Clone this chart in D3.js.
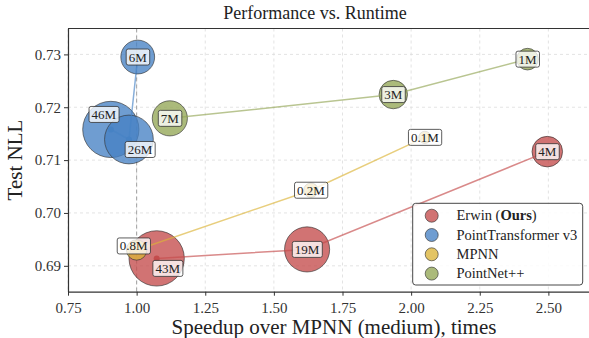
<!DOCTYPE html>
<html>
<head>
<meta charset="utf-8">
<script src="https://d3js.org/d3.v7.min.js"></script>
<style>
	body { margin: 0; background: #fff; }
	svg { display: block; font-family: "Liberation Serif", "DejaVu Serif", serif; }
	.grid line { stroke: #dcdcdc; stroke-width: 0.8; stroke-dasharray: 3,3; }
	.axis path, .axis line { stroke: #333; }
	.axis text { font-size: 15px; fill: #333; font-family: "Liberation Serif", serif; }
</style>
</head>
<body>
<div id="chart"></div>
<script>
	// --- data ---
	var models = ["Erwin", "PointTransformer v3", "MPNN", "PointNet++"];
	var colors = ["#c44c4c", "#4682c4", "#dbb438", "#94a656"];

	var erwinSpeed  = [1.073, 1.621, 2.496];
	var erwinNLL    = [0.6914, 0.6931, 0.7116];
	var erwinParams = [43, 19, 4];

	var ptv3Speed  = [0.906, 0.972, 1.004];
	var ptv3NLL    = [0.7158, 0.7139, 0.7295];
	var ptv3Params = [46, 26, 6];

	var mpnnSpeed  = [1.000, 1.635, 2.050];
	var mpnnNLL    = [0.6930, 0.7043, 0.7143];
	var mpnnParams = [0.8, 0.2, 0.1];

	var pnSpeed  = [1.121, 1.935, 2.424];
	var pnNLL    = [0.7179, 0.7224, 0.7291];
	var pnParams = [7, 3, 1];

	var xTicks = [0.75, 1.00, 1.25, 1.50, 1.75, 2.00, 2.25, 2.50];
	var yTicks = [0.69, 0.70, 0.71, 0.72, 0.73];

	var series = [
		{speed: erwinSpeed, nll: erwinNLL, params: erwinParams},
		{speed: ptv3Speed, nll: ptv3NLL, params: ptv3Params},
		{speed: mpnnSpeed, nll: mpnnNLL, params: mpnnParams},
		{speed: pnSpeed, nll: pnNLL, params: pnParams}
	];

	// label nudges so boxes do not pile up (px)
	var nudge = {"43": [11, 10], "26": [11, 10], "46": [-7, -15], "0.8": [-3, -4]};

	var W = 589, H = 338;
	var pLeft = 68, pTop = 28.5, pBottom = 291.7;

	var x = d3.scaleLinear().domain([0.75, 2.66]).range([pLeft, pLeft + 1.91 * 274.5]);
	var y = d3.scaleLinear().domain([0.6851, 0.7349]).range([pBottom, pTop]);
	var r = d3.scalePow().exponent(0.25).domain([0, 1]).range([0, 10.8]);

	var svg = d3.select("#chart").append("svg")
		.attr("width", W)
		.attr("height", H);

	svg.append("clipPath").attr("id", "clip")
		.append("rect").attr("x", pLeft).attr("y", pTop)
		.attr("width", W - pLeft).attr("height", pBottom - pTop);

	// grid
	svg.append("g").attr("class", "grid")
		.selectAll("line").data(xTicks).enter().append("line")
		.attr("x1", d => x(d)).attr("x2", d => x(d))
		.attr("y1", pTop).attr("y2", pBottom);
	svg.append("g").attr("class", "grid")
		.selectAll("line").data(yTicks).enter().append("line")
		.attr("x1", pLeft).attr("x2", W)
		.attr("y1", d => y(d)).attr("y2", d => y(d));

	// reference at speedup = 1
	svg.append("line")
		.attr("x1", x(1)).attr("x2", x(1))
		.attr("y1", pTop).attr("y2", pBottom)
		.attr("stroke", "#9a9a9a").attr("stroke-width", 0.9)
		.attr("stroke-dasharray", "4,3");

	var plot = svg.append("g").attr("clip-path", "url(#clip)");

	series.forEach(function(s, i) {
		var pts = s.speed.map(function(v, j) {
			return {x: v, y: s.nll[j], p: s.params[j]};
		});
		var g = plot.append("g");

		g.selectAll("circle.bubble").data(pts).enter().append("circle")
			.attr("class", "bubble")
			.attr("cx", d => x(d.x)).attr("cy", d => y(d.y))
			.attr("r", d => r(d.p))
			.attr("fill", colors[i]).attr("fill-opacity", 0.78)
			.attr("stroke", "#333").attr("stroke-opacity", 0.8)
			.attr("stroke-width", 0.8);

		var sorted = pts.slice().sort((a, b) => a.x - b.x);
		g.append("path")
			.datum(sorted)
			.attr("d", d3.line().x(d => x(d.x)).y(d => y(d.y)))
			.attr("fill", "none")
			.attr("stroke", colors[i]).attr("stroke-opacity", 0.65)
			.attr("stroke-width", 1.5);

		g.selectAll("circle.dot").data(pts).enter().append("circle")
			.attr("class", "dot")
			.attr("cx", d => x(d.x)).attr("cy", d => y(d.y))
			.attr("r", 3)
			.attr("fill", colors[i]);
	});

	// labels on top
	var labels = svg.append("g");
	series.forEach(function(s, i) {
		s.speed.forEach(function(v, j) {
			var key = String(s.params[j]);
			var off = nudge[key] || [0, 0];
			var cx = x(v) + off[0], cy = y(s.nll[j]) + off[1];
			var g = labels.append("g");
			var t = g.append("text")
				.attr("x", cx).attr("y", cy + 4.5)
				.attr("text-anchor", "middle")
				.attr("font-size", 13)
				.attr("fill", "#222")
				.text(key + "M");
			var bb = t.node().getBBox();
			g.insert("rect", "text")
				.attr("x", bb.x - 2.5).attr("y", cy - 8)
				.attr("width", bb.width + 5).attr("height", 16)
				.attr("rx", 2)
				.attr("fill", "#fff").attr("fill-opacity", 0.78)
				.attr("stroke", "#333").attr("stroke-width", 0.8);
		});
	});

	// axes
	svg.append("g").attr("class", "axis")
		.attr("transform", "translate(0," + pBottom + ")")
		.call(d3.axisBottom(x).tickValues(xTicks).tickFormat(d3.format(".2f")).tickSize(4).tickSizeOuter(0))
		.call(g => g.select(".domain").attr("stroke-width", 1.2))
		.selectAll("text").attr("dy", "0.95em");

	svg.append("g").attr("class", "axis")
		.attr("transform", "translate(" + pLeft + ",0)")
		.call(d3.axisLeft(y).tickValues(yTicks).tickFormat(d3.format(".2f")).tickSize(4).tickSizeOuter(0))
		.call(g => g.select(".domain").attr("stroke-width", 1.2));

	svg.append("line")
		.attr("x1", pLeft).attr("x2", W).attr("y1", pTop).attr("y2", pTop)
		.attr("stroke", "#333").attr("stroke-width", 1.2);

	// titles
	svg.append("text")
		.attr("x", 315).attr("y", 19)
		.attr("text-anchor", "middle")
		.attr("font-size", 18).attr("fill", "#222")
		.text("Performance vs. Runtime");

	svg.append("text")
		.attr("x", 334).attr("y", 334)
		.attr("text-anchor", "middle")
		.attr("font-size", 21).attr("fill", "#222")
		.text("Speedup over MPNN (medium), times");

	svg.append("text")
		.attr("transform", "translate(22,160) rotate(-90)")
		.attr("text-anchor", "middle")
		.attr("font-size", 21).attr("fill", "#222")
		.text("Test NLL");

	// legend
	var lg = svg.append("g");
	lg.append("rect")
		.attr("x", 412.7).attr("y", 203.3)
		.attr("width", 170).attr("height", 81.7)
		.attr("rx", 3)
		.attr("fill", "#fff").attr("fill-opacity", 0.85)
		.attr("stroke", "#333").attr("stroke-width", 0.9);

	models.forEach(function(m, i) {
		var yy = 215.7 + i * 19.3;
		lg.append("circle")
			.attr("cx", 431.7).attr("cy", yy).attr("r", 6.5)
			.attr("fill", colors[i]).attr("fill-opacity", 0.78)
			.attr("stroke", "#333").attr("stroke-opacity", 0.8).attr("stroke-width", 0.8);
		var t = lg.append("text")
			.attr("x", 456.5).attr("y", yy + 4.5)
			.attr("font-size", 14.5).attr("fill", "#222");
		if (i === 0) {
			t.append("tspan").text("Erwin (");
			t.append("tspan").attr("font-weight", "bold").text("Ours");
			t.append("tspan").text(")");
		} else {
			t.text(m);
		}
	});
</script>
</body>
</html>
